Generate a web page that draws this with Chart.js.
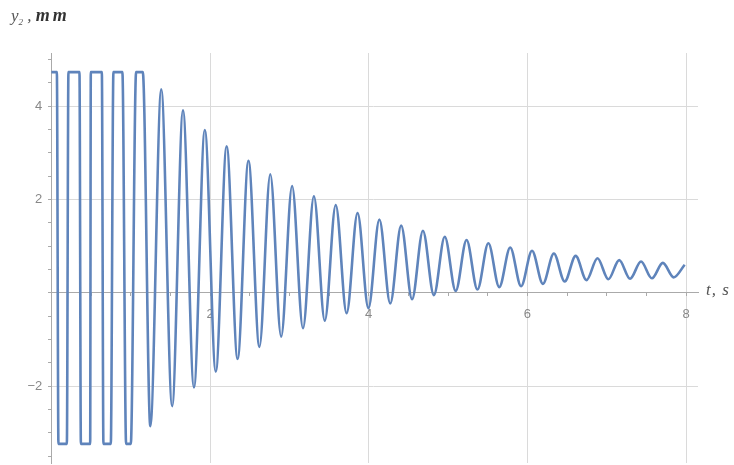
<!DOCTYPE html>
<html lang="en">
  <head>
    <meta charset="UTF-8" />
    <title>y2 displacement vs time</title>
    <style>
      body {
        margin: 0;
        background: #fff;
      }

      .wrap {
        position: relative;
        width: 734px;
        height: 465px;
      }

      canvas {
        display: block;
      }

      .axis-title {
        position: absolute;
        font-family: "Liberation Serif", serif;
        font-style: italic;
        color: #555;
        white-space: nowrap;
      }

      .axis-title b {
        color: #333;
        font-size: 18px;
        letter-spacing: 3px;
      }
    </style>
  </head>
  <body>
    <script src="https://cdn.jsdelivr.net/npm/chart.js@4.4.1/dist/chart.umd.min.js"></script>

    <div class="wrap">
      <canvas id="chart" width="734" height="465"></canvas>
      <span class="axis-title" style="left: 11px; top: 5px; font-size: 17px;">y<sub style="font-size: 9px;">2</sub> , <b>mm</b></span>
      <span class="axis-title" style="left: 706px; top: 280px; font-size: 17px; letter-spacing: 1px;">t, s</span>
    </div>

    <script>
      // time, s  (peaks / troughs; flat parts are where the curve is clipped)
      const tPts = [
        0.0, 0.069, 0.089, 0.195, 0.215, 0.354, 0.372, 0.489, 0.497, 0.636,
        0.656, 0.749, 0.782, 0.895, 0.942, 1.001, 1.068, 1.152,
        1.247, 1.385, 1.522, 1.659, 1.797, 1.934, 2.072, 2.209, 2.347, 2.484,
        2.622, 2.759, 2.896, 3.034, 3.171, 3.309, 3.446, 3.584, 3.721, 3.859,
        3.996, 4.134, 4.271, 4.409, 4.546, 4.683, 4.821, 4.958, 5.096, 5.233,
        5.37, 5.508, 5.645, 5.783, 5.92, 6.058, 6.195, 6.333, 6.47, 6.608,
        6.745, 6.883, 7.02, 7.157, 7.294, 7.432, 7.569, 7.707, 7.844, 7.982
      ];

      // y2, mm
      const yPts = [
        4.73, 4.73, -3.24, -3.24, 4.73, 4.73, -3.24, -3.24, 4.73, 4.73,
        -3.24, -3.24, 4.73, 4.73, -3.24, -3.24, 4.73, 4.73,
        -2.86, 4.36, -2.43, 3.91, -2.03, 3.49, -1.69, 3.14, -1.42, 2.83,
        -1.16, 2.54, -0.94, 2.29, -0.76, 2.07, -0.6, 1.88, -0.44, 1.71,
        -0.33, 1.57, -0.23, 1.44, -0.14, 1.33, -0.05, 1.2, 0.04, 1.13,
        0.07, 1.06, 0.12, 0.97, 0.14, 0.9, 0.19, 0.84, 0.24, 0.79,
        0.27, 0.74, 0.29, 0.7, 0.3, 0.67, 0.31, 0.64, 0.33, 0.6
      ];

      // labelled ticks
      const xTicks = [2, 4, 6, 8];
      const yTicks = [-2, 2, 4];

      // small tick marks every 0.5 along each axis
      function halfSteps(from, to) {
        const out = [];
        for (let v = from; v <= to + 1e-9; v += 0.5) out.push({ value: v });
        return out;
      }
      function inList(v, list) {
        return list.some(k => Math.abs(k - v) < 1e-6);
      }
      // the axes sit inside the plot, so drop the label overhang padding
      function noPad(scale) {
        scale.paddingTop = 0;
        scale.paddingBottom = 0;
        scale.paddingLeft = 0;
        scale.paddingRight = 0;
      }

      const points = tPts.map((t, i) => ({ x: t, y: yPts[i] }));

      const tickFont = { family: "Liberation Sans", size: 13 };

      new Chart(document.getElementById("chart"), {
        type: "line",
        data: {
          datasets: [
            {
              data: points,
              borderColor: "#5f84bb",
              borderWidth: 2.6,
              pointRadius: 0,
              fill: false,
              cubicInterpolationMode: "monotone"
            }
          ]
        },
        options: {
          responsive: false,
          animation: false,
          layout: { padding: { left: 49, right: 36, top: 53, bottom: 2 } },
          plugins: {
            legend: { display: false },
            tooltip: { enabled: false }
          },
          scales: {
            x: {
              type: "linear",
              min: -0.03,
              max: 8.15,
              position: { y: 0 },
              afterBuildTicks: s => { s.ticks = halfSteps(0, 8); },
              afterFit: noPad,
              ticks: {
                autoSkip: false,
                maxRotation: 0,
                padding: 11,
                color: "#888",
                font: tickFont,
                callback: v => (inList(v, xTicks) ? String(v) : "")
              },
              grid: {
                color: c => (c.tick && inList(c.tick.value, xTicks) ? "#dadada" : "rgba(0,0,0,0)"),
                tickColor: "#aaa",
                tickLength: 3
              },
              border: { color: "#aaa", width: 1 }
            },
            y: {
              type: "linear",
              min: -3.65,
              max: 5.14,
              position: { x: 0 },
              afterBuildTicks: s => { s.ticks = halfSteps(-3.5, 5); },
              afterFit: noPad,
              ticks: {
                autoSkip: false,
                color: "#888",
                font: tickFont,
                // labels are right-aligned on the axis line; the trailing spaces keep them clear of it
                callback: v => (inList(v, yTicks) ? (v < 0 ? "\u2212" + Math.abs(v) : String(v)) + "\u2002\u2009" : "")
              },
              grid: {
                color: c => (c.tick && inList(c.tick.value, yTicks) ? "#dadada" : "rgba(0,0,0,0)"),
                tickColor: "#aaa",
                tickLength: 3
              },
              border: { color: "#aaa", width: 1 }
            }
          }
        }
      });
    </script>
  </body>
</html>
